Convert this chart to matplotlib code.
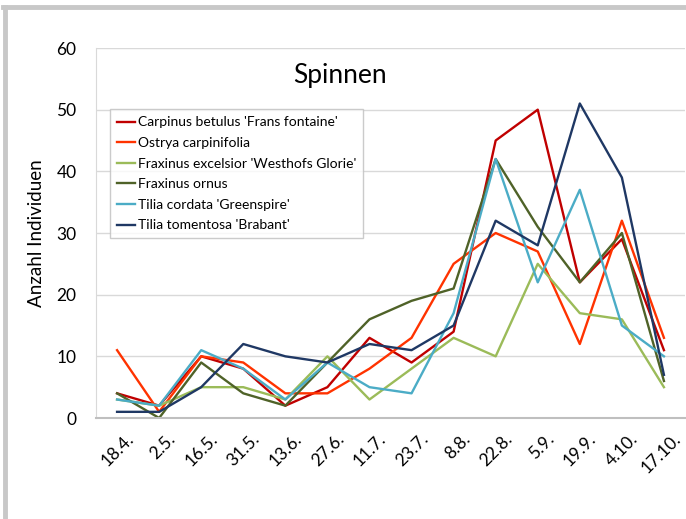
import numpy as np
import matplotlib.pyplot as plt
from matplotlib.lines import Line2D
from matplotlib.transforms import ScaledTranslation

plt.rcParams['font.family'] = ['Lato', 'DejaVu Sans']

# sampling dates
dates = ['18.4.', '2.5.', '16.5.', '31.5.', '13.6.', '27.6.', '11.7.',
         '23.7.', '8.8.', '22.8.', '5.9.', '19.9.', '4.10.', '17.10.']

carpinus = [4, 2, 10, 8, 2, 5, 13, 9, 14, 45, 50, 22, 29, 11]
ostrya = [11, 1, 10, 9, 4, 4, 8, 13, 25, 30, 27, 12, 32, 13]
fraxinus_exc = [3, 2, 5, 5, 3, 10, 3, 8, 13, 10, 25, 17, 16, 5]
fraxinus_orn = [4, 0, 9, 4, 2, 9, 16, 19, 21, 42, 31, 22, 30, 6]
tilia_cord = [3, 2, 11, 8, 3, 9, 5, 4, 17, 42, 22, 37, 15, 10]
tilia_tom = [1, 1, 5, 12, 10, 9, 12, 11, 15, 32, 28, 51, 39, 7]

labels = ["Carpinus betulus 'Frans fontaine'", "Ostrya carpinifolia",
          "Fraxinus excelsior 'Westhofs Glorie'", "Fraxinus ornus",
          "Tilia cordata 'Greenspire'", "Tilia tomentosa 'Brabant'"]
colors = ['#C00000', '#FF3300', '#9BBB59', '#4F6228', '#4BACC6', '#1F3864']
series = [carpinus, ostrya, fraxinus_exc, fraxinus_orn, tilia_cord, tilia_tom]

fig = plt.figure(figsize=(6.86, 5.19), dpi=100)
ax = fig.add_axes([0.14, 0.1946, 0.8585, 0.7129])

x = np.arange(len(dates))
for vals, lab, col in zip(series, labels, colors):
    ax.plot(x, vals, color=col, linewidth=1.7, label=lab)

ax.set_xlim(-0.5, len(dates) - 0.5)
ax.set_ylim(0, 60)
ax.set_yticks(range(0, 61, 10))
ax.set_xticks(x)
ax.set_xticklabels(dates, rotation=45, ha='right', rotation_mode='anchor')
ax.tick_params(axis='both', length=0, labelsize=12.5)
ax.tick_params(axis='y', pad=14)
ax.tick_params(axis='x', pad=9)
shift = ScaledTranslation(6 / 72, 0, fig.dpi_scale_trans)
for t in ax.get_xticklabels():
    t.set_transform(t.get_transform() + shift)
ax.grid(axis='y', color='#D9D9D9', linewidth=1)
ax.set_axisbelow(True)
for s in ['top', 'right']:
    ax.spines[s].set_visible(False)
ax.spines['left'].set_color('#D9D9D9')
ax.spines['bottom'].set_color('#BFBFBF')
ax.spines['bottom'].set_linewidth(1.5)

ax.set_ylabel('Anzahl Individuen', fontsize=13.5, labelpad=8)
ax.text(0.414, 0.925, 'Spinnen', transform=ax.transAxes, ha='center',
        va='center', fontsize=19)

leg = ax.legend(loc='upper left', bbox_to_anchor=(0.024, 0.834), fontsize=10,
                frameon=True, fancybox=False, handlelength=1.3,
                handletextpad=0.2, labelspacing=0.62, borderpad=0.5,
                borderaxespad=0)
leg.get_frame().set_edgecolor('#BFBFBF')
leg.get_frame().set_linewidth(1)

# outer chart border (left and top)
fig.add_artist(Line2D([0.0073, 0.0073], [0, 0.9865], color='#C8C8C8',
                      linewidth=3.5, transform=fig.transFigure))
fig.add_artist(Line2D([0.005, 1], [0.9865, 0.9865], color='#C8C8C8',
                      linewidth=3.5, transform=fig.transFigure))

fig.savefig('out.png', dpi=100)
